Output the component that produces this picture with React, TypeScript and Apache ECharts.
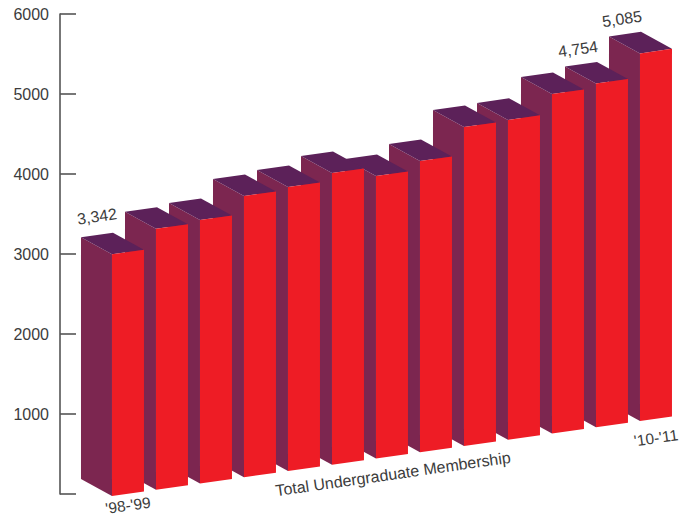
import React, { useEffect, useRef } from "react";
import * as echarts from "echarts";

const categories = ["'98-'99", "'99-'00", "'00-'01", "'01-'02", "'02-'03", "'03-'04", "'04-'05", "'05-'06", "'06-'07", "'07-'08", "'08-'09", "'09-'10", "'10-'11"];
const memberships = [3342, 3610, 3645, 3890, 3928, 4035, 3907, 4028, 4412, 4424, 4695, 4754, 5085];
const valueLabels = ["3,342", "", "", "", "", "", "", "", "", "", "", "4,754", "5,085"];
const shownCategories = ["'98-'99", "'10-'11"];
const yTicks = [0, 1000, 2000, 3000, 4000, 5000, 6000];
const axisTitle = "Total Undergraduate Membership";

const FONT = '"Liberation Sans", Arial, sans-serif';
const TEXT = "#3c3c3c";
const FRONT = "#ee1c25";
const SIDE = "#7c2650";
const TOP = "#5c2159";
const SLOPE = 0.142; // baseline rise per horizontal pixel
const ANGLE = Math.atan(SLOPE);

function renderBar(_params: any, api: any) {
  const i = api.value(0);
  const value = api.value(1);
  const step = api.size([1, 0])[0];
  const bandLeft = api.coord([i, 0])[0] - step / 2;
  const left = bandLeft + step * 0.136;
  const w = step * 0.727;
  const rise = step * SLOPE * i;
  const yB = api.coord([i, 0])[1] - rise;
  const yT = api.coord([i, value])[1] - rise;
  const dx = -31;
  const dy = -17;
  const wRise = w * SLOPE;
  const z2 = (20 - i) * 3;

  const children: any[] = [
    {
      type: "polygon",
      z2,
      shape: { points: [[left, yT], [left + dx, yT + dy], [left + dx, yB + dy], [left, yB]] },
      style: { fill: SIDE },
    },
    {
      type: "polygon",
      z2,
      shape: { points: [[left, yT], [left + dx, yT + dy], [left + dx + w, yT + dy - wRise], [left + w, yT - wRise]] },
      style: { fill: TOP },
    },
    {
      type: "polygon",
      z2: z2 + 1,
      shape: { points: [[left, yT], [left + w, yT - wRise], [left + w, yB - wRise], [left, yB]] },
      style: { fill: FRONT },
    },
  ];

  const label = valueLabels[i];
  if (label) {
    children.push({
      type: "text",
      z2: 200,
      x: left + dx + (i === 0 ? 16 : 13),
      y: yT + dy - (i === 0 ? 21 : 17.5),
      rotation: ANGLE,
      style: { text: label, fill: TEXT, font: `16px ${FONT}`, align: "center", verticalAlign: "middle" },
    });
  }
  const cat = categories[i];
  if (shownCategories.includes(cat)) {
    children.push({
      type: "text",
      z2: 200,
      x: left + w / 2,
      y: yB - wRise / 2 + (i === 0 ? 11.5 : 19),
      rotation: ANGLE,
      style: { text: cat, fill: TEXT, font: `15.5px ${FONT}`, align: "center", verticalAlign: "middle" },
    });
  }
  return { type: "group", children };
}

export default function App() {
  const ref = useRef<HTMLDivElement>(null);
  useEffect(() => {
    const chart = echarts.init(ref.current!, undefined, { renderer: "svg" });
    chart.setOption({
      animation: false,
      backgroundColor: "#ffffff",
      textStyle: { fontFamily: FONT },
      grid: [
        { left: 60, top: 14, width: 100, height: 480, containLabel: false },
        { left: 106, top: 16, width: 572, height: 480 },
      ],
      xAxis: [
        { gridIndex: 0, type: "value", show: false, min: 0, max: 1 },
        { gridIndex: 1, type: "category", show: false, data: categories, boundaryGap: true },
      ],
      yAxis: [
        {
          gridIndex: 0,
          type: "value",
          min: yTicks[0],
          max: yTicks[yTicks.length - 1],
          interval: 1000,
          position: "left",
          splitLine: { show: false },
          axisLine: { show: true, lineStyle: { color: "#555555", width: 1.6 } },
          axisTick: { show: true, inside: true, length: 16, lineStyle: { color: "#555555", width: 1.6 } },
          axisLabel: {
            margin: 11,
            color: TEXT,
            fontSize: 16,
            fontFamily: FONT,
            formatter: (v: number) => (v === 0 ? "" : String(v)),
          },
        },
        { gridIndex: 1, type: "value", show: false, min: 0, max: 6639, splitLine: { show: false } },
      ],
      series: [
        {
          type: "custom",
          xAxisIndex: 1,
          yAxisIndex: 1,
          clip: false,
          renderItem: renderBar,
          encode: { x: 0, y: 1 },
          data: memberships.map((v, i) => [i, v]),
        },
      ],
      graphic: [
        {
          type: "text",
          x: 393,
          y: 474,
          rotation: ANGLE,
          z: 100,
          style: { text: axisTitle, fill: TEXT, font: `16px ${FONT}`, align: "center", verticalAlign: "middle" },
        },
      ],
    });
    return () => chart.dispose();
  }, []);
  return <div ref={ref} style={{ position: "absolute", left: 0, top: 0, width: 691, height: 516, overflow: "hidden" }} />;
}
